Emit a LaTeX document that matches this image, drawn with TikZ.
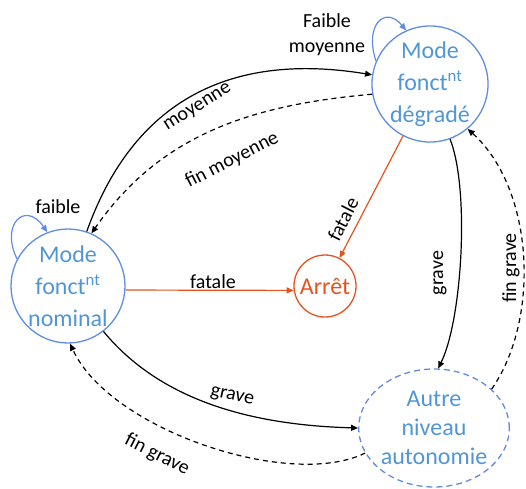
\documentclass[tikz,border=0pt]{standalone}
\usepackage{fontspec}
\setmainfont{Carlito}
\usetikzlibrary{arrows.meta,shapes.geometric}
\definecolor{stateblue}{RGB}{96,140,228}
\definecolor{statetext}{RGB}{80,150,215}
\definecolor{stoporange}{RGB}{230,82,30}
\tikzset{
  state/.style={circle, draw=stateblue, line width=1.3pt, text=statetext,
    align=center, inner sep=0pt, minimum size=114pt,
    font=\fontsize{24}{32}\selectfont},
  stopstate/.style={circle, draw=stoporange, line width=1.3pt, text=stoporange,
    inner sep=0pt, minimum size=62pt, font=\fontsize{24}{28}\selectfont},
  tr/.style={line width=1.2pt, -{Triangle[length=7pt,width=6pt]}},
  back/.style={tr, dashed, dash pattern=on 5pt off 4pt},
  fatal/.style={tr, draw=stoporange},
  loope/.style={line width=1.2pt, draw=stateblue,
    -{Triangle[length=7pt,width=6pt]}},
  lbl/.style={font=\fontsize{20}{24}\selectfont, inner sep=1pt}
}
\begin{document}
\begin{tikzpicture}[x=1pt,y=-1pt]
\useasboundingbox (0,0) rectangle (526,488);

% states
\node[state] (nom) at (68,286) {Mode\\fonct\textsuperscript{nt}\\nominal};
\node[state] (deg) at (430,84) {Mode\\fonct\textsuperscript{nt}\\dégradé};
\node[state, ellipse, dashed, dash pattern=on 6pt off 4pt,
      minimum width=138pt, minimum height=118pt,
      font=\fontsize{24}{29}\selectfont] (aut) at (434,428) {Autre\\niveau\\autonomie};
\node[stopstate] (arr) at (325,286) {Arrêt};

% self loops
\draw[loope] (nom.152) .. controls (0,225) and (25,200) .. (nom.111);
\node[lbl] (lfaible) at (58,207) {faible};
\draw[loope] (deg.157) .. controls (364,25) and (385,5) .. (deg.114);
\node[lbl, align=center, font=\fontsize{20}{25}\selectfont] (lfm) at (327,35) {Faible\\moyenne};

% nominal <-> degraded
\draw[tr] (nom.71) .. controls (130,110) and (220,50) .. (deg.171);
\node[lbl, rotate=32] (lmoy) at (198,108) {moyenne};
\draw[back] (deg.190) .. controls (250,105) and (160,135) .. (nom.66);
\node[lbl, rotate=27] (lfmoy) at (232,160) {fin moyenne};

% fatal transitions
\draw[fatal] (nom.-4) -- (arr.-172);
\node[lbl] (lfat1) at (213,282) {fatale};
\draw[fatal] (deg) -- (arr);
\node[lbl, rotate=63] (lfat2) at (343,219) {fatale};

% degraded <-> other autonomy level
\draw[tr] (deg.-70) .. controls (470,190) and (462,320) .. (aut.86);
\node[lbl, rotate=90] (lgr1) at (440,273) {grave};
\draw[back] (aut.34) .. controls (540,320) and (535,190) .. (deg.-50);
\node[lbl, rotate=90] (lfg1) at (511,268) {fin grave};

% nominal <-> other autonomy level
\draw[tr] (nom.-52) .. controls (160,400) and (250,425) .. (aut.180);
\node[lbl, rotate=-12.5] (lgr2) at (232,397) {grave};
\draw[back] (aut.200) .. controls (290,490) and (110,430) .. (nom.-88);
\node[lbl, rotate=-27] (lfg2) at (157,455) {fin grave};
\end{tikzpicture}
\end{document}
